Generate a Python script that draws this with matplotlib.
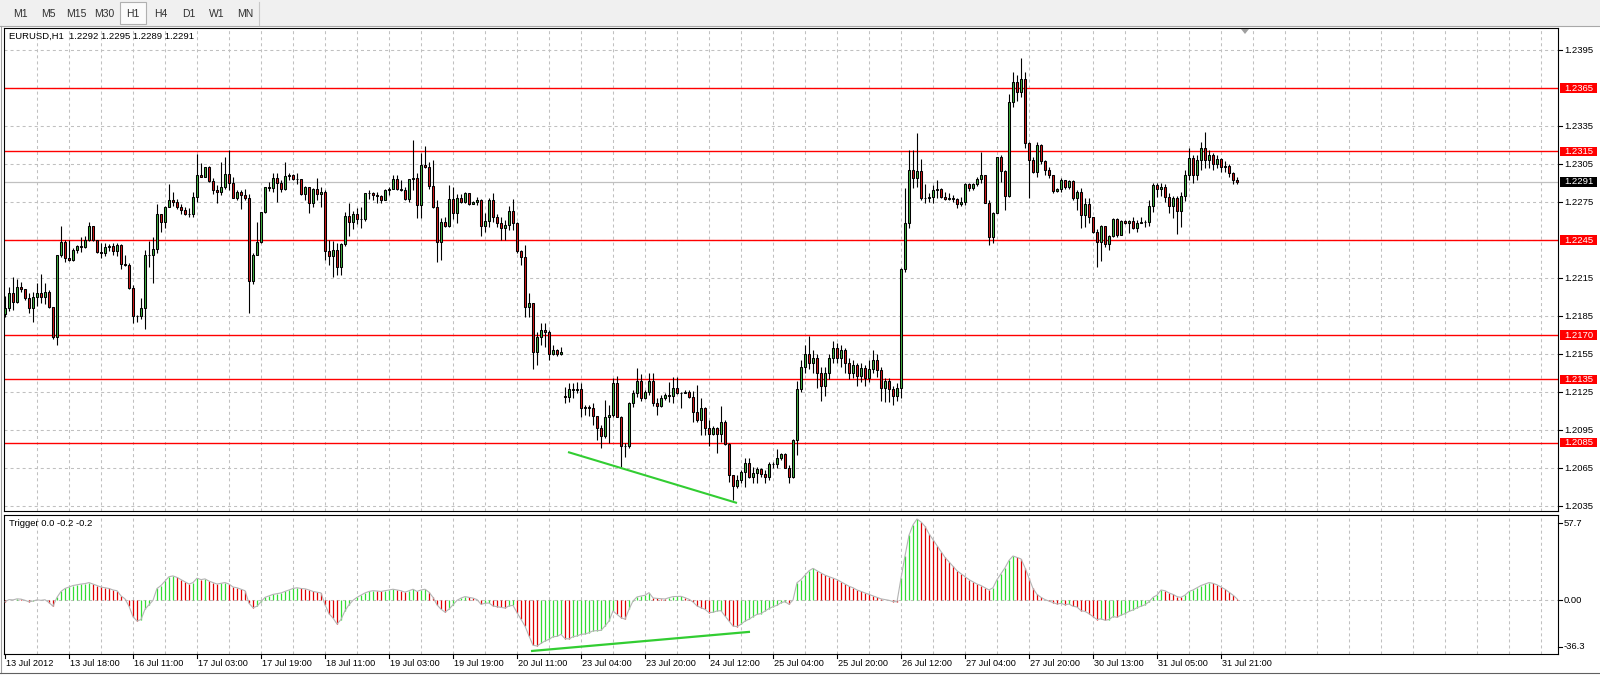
"""EURUSD H1 candle chart with Trigger sub-window, MT4 look."""

import matplotlib

matplotlib.use("Agg")
import matplotlib.pyplot as plt
import numpy as np
from matplotlib.patches import Polygon, Rectangle

plt.rcParams["font.family"] = ["Liberation Sans", "DejaVu Sans"]

# ---- data (prices in pips above 1.2000) ----
first_open = 186.6
gap_opens = {140: 121.5}  # Monday open after the weekend gap

closes = [
    191.6, 202.9, 196.3, 208.2, 206.3, 199.5, 191.6, 199.7, 203.4, 200.3,
    203.7, 191.8, 168.2, 232.9, 243.2, 230.5, 229.2, 237.1, 240.3, 239.7,
    245.0, 255.8, 245.0, 235.8, 235.0, 239.5, 240.5, 236.0, 241.0, 225.8,
    225.3, 206.8, 184.7, 185.3, 191.3, 232.9, 233.4, 237.9, 265.3, 258.9,
    271.1, 276.3, 274.7, 270.8, 268.9, 265.8, 265.3, 278.7, 296.1, 295.0,
    302.4, 291.8, 284.2, 282.6, 286.6, 297.1, 289.7, 278.4, 282.9, 280.5,
    278.2, 212.9, 232.9, 243.4, 267.1, 286.6, 286.0, 293.7, 289.7, 285.0,
    295.5, 296.3, 293.4, 292.9, 281.0, 286.6, 274.0, 285.0, 281.0, 282.9,
    236.6, 232.6, 237.1, 224.0, 241.6, 263.9, 259.5, 265.5, 261.8, 261.3,
    281.8, 282.4, 280.3, 279.5, 276.6, 284.2, 285.3, 292.9, 285.5, 284.5,
    277.4, 292.9, 293.7, 272.6, 304.2, 302.4, 287.9, 270.8, 243.2, 259.0,
    255.8, 277.4, 266.6, 277.9, 274.7, 281.8, 273.4, 274.7, 276.6, 256.3,
    260.3, 276.6, 262.9, 258.7, 254.7, 256.8, 267.9, 258.2, 236.6, 231.8,
    192.4, 195.0, 156.8, 168.2, 173.9, 172.4, 155.0, 157.9, 155.0, 156.8,
    121.0, 127.2, 126.5, 127.5, 112.2, 113.0, 112.7, 106.4, 96.4, 90.6,
    105.0, 106.9, 131.9, 105.6, 82.4, 82.0, 116.1, 124.5, 134.0, 120.1,
    125.3, 133.7, 116.1, 114.3, 120.1, 122.7, 122.0, 127.9, 124.5, 124.3,
    125.0, 120.8, 109.5, 102.9, 112.2, 96.4, 91.9, 96.4, 91.6, 101.6,
    83.7, 59.5, 51.1, 55.6, 61.6, 68.7, 58.2, 61.0, 64.3, 60.0,
    58.2, 68.0, 68.5, 73.2, 75.8, 65.3, 58.2, 87.1, 127.2, 145.0,
    155.0, 148.0, 152.0, 140.0, 130.0, 140.0, 152.0, 160.0, 152.0, 158.0,
    148.0, 140.0, 146.0, 138.0, 144.0, 136.0, 143.0, 150.0, 142.0, 128.0,
    134.0, 127.0, 122.0, 128.0, 221.8, 258.1, 300.2, 293.7, 299.4, 277.9,
    278.3, 278.7, 284.4, 285.0, 278.7, 277.5, 278.0, 277.0, 273.4, 274.7,
    289.0, 286.0, 289.2, 292.9, 296.3, 274.4, 247.1, 266.5, 310.2, 299.2,
    280.0, 354.2, 370.0, 362.0, 372.0, 321.8, 308.1, 298.9, 320.0, 307.0,
    300.5, 296.0, 283.9, 285.0, 292.3, 286.6, 291.8, 277.9, 283.1, 264.7,
    273.4, 263.4, 251.5, 243.7, 256.0, 241.6, 248.1, 261.5, 248.9, 260.2,
    258.7, 260.0, 254.2, 258.7, 259.4, 259.0, 271.8, 288.1, 285.0, 287.0,
    279.0, 272.0, 278.0, 268.0, 280.0, 296.0, 310.0, 296.0, 308.0, 318.0,
    308.0, 312.0, 305.0, 309.0, 303.0, 303.5, 298.0, 292.0, 291.0,
]

highs = [
    200.8, 208.2, 216.1, 213.9, 212.1, 205.5, 202.9, 203.7, 210.8, 218.2,
    210.8, 205.5, 191.6, 233.5, 256.0, 245.0, 245.0, 238.4, 241.0, 247.1,
    248.2, 259.5, 255.9, 245.0, 242.4, 242.4, 242.0, 242.4, 242.4, 241.6,
    232.9, 226.6, 209.2, 185.8, 199.5, 237.1, 244.5, 247.4, 273.4, 265.5,
    272.1, 289.2, 282.6, 277.1, 273.4, 270.8, 270.0, 282.6, 312.9, 306.1,
    302.9, 303.7, 293.7, 288.4, 306.6, 310.8, 315.8, 295.0, 284.5, 284.5,
    285.0, 281.0, 235.0, 259.0, 267.5, 287.0, 291.0, 297.6, 297.6, 292.4,
    306.3, 297.6, 297.1, 298.2, 292.9, 287.6, 286.6, 285.8, 293.7, 287.1,
    284.5, 245.0, 244.2, 242.4, 242.4, 267.4, 274.5, 267.9, 270.3, 271.3,
    282.4, 284.5, 283.2, 283.2, 280.5, 285.0, 287.1, 296.3, 296.3, 292.4,
    287.1, 293.5, 324.0, 297.6, 313.4, 319.2, 306.8, 308.2, 276.6, 262.1,
    262.9, 288.4, 286.6, 281.3, 281.3, 283.2, 282.0, 275.5, 279.2, 277.0,
    266.1, 277.9, 281.8, 265.5, 262.9, 260.8, 271.8, 277.4, 259.5, 237.1,
    241.1, 202.9, 195.0, 172.7, 179.7, 179.2, 173.9, 162.1, 158.7, 160.5,
    129.3, 132.4, 132.4, 133.0, 132.4, 114.8, 114.8, 116.1, 106.1, 99.0,
    118.7, 114.8, 135.8, 137.7, 106.0, 84.5, 117.4, 126.6, 143.7, 139.0,
    126.6, 140.3, 139.8, 120.1, 122.7, 124.0, 133.2, 137.2, 137.2, 125.3,
    126.6, 126.6, 126.1, 130.6, 120.1, 113.5, 102.9, 98.2, 97.2, 114.3,
    102.9, 84.5, 59.5, 59.5, 63.5, 73.2, 72.7, 66.1, 66.1, 64.8,
    63.5, 70.0, 70.0, 79.8, 77.2, 76.6, 67.4, 87.7, 133.7, 150.0,
    162.0, 169.0, 158.0, 155.0, 145.0, 145.0, 155.0, 165.0, 164.0, 162.0,
    160.0, 152.0, 150.0, 148.0, 148.0, 146.0, 150.0, 158.0, 155.0, 145.0,
    136.0, 136.0, 130.0, 132.0, 223.0, 286.0, 316.0, 316.0, 329.2, 308.7,
    289.2, 282.3, 288.4, 292.3, 286.3, 283.1, 282.3, 280.5, 277.9, 279.2,
    289.7, 290.0, 290.2, 294.4, 314.7, 296.3, 276.6, 267.3, 310.5, 312.1,
    300.2, 360.0, 378.0, 375.0, 389.0, 378.0, 322.6, 310.8, 322.6, 320.5,
    308.0, 302.9, 296.3, 285.8, 293.7, 292.3, 292.5, 292.3, 284.4, 285.8,
    277.9, 277.9, 263.4, 253.4, 256.8, 256.0, 248.9, 262.1, 262.1, 260.8,
    260.8, 260.8, 262.9, 260.8, 263.4, 260.8, 276.6, 289.7, 289.7, 290.0,
    289.0, 282.0, 280.0, 280.0, 283.0, 300.0, 318.0, 312.0, 312.0, 322.0,
    330.0, 316.0, 314.0, 312.0, 310.0, 307.0, 305.0, 299.0, 295.0,
]

lows = [
    184.5, 189.2, 189.7, 195.0, 204.2, 197.6, 187.6, 180.5, 192.9, 195.0,
    194.2, 191.3, 166.6, 162.1, 231.8, 227.9, 228.7, 228.5, 235.0, 235.3,
    238.9, 244.0, 244.2, 235.0, 230.5, 232.4, 236.6, 233.2, 232.6, 221.8,
    224.5, 206.0, 179.7, 180.5, 183.0, 174.5, 224.0, 210.8, 235.0, 251.6,
    254.2, 270.8, 272.1, 269.2, 265.5, 264.7, 262.9, 262.9, 275.3, 294.5,
    294.5, 291.1, 281.3, 274.5, 280.3, 285.0, 284.5, 277.9, 276.6, 269.7,
    276.6, 187.6, 210.3, 233.4, 242.4, 266.1, 283.4, 282.9, 275.3, 283.2,
    284.5, 292.4, 292.4, 289.2, 280.5, 276.6, 266.1, 270.8, 276.6, 271.3,
    229.2, 225.3, 215.5, 217.4, 217.4, 240.0, 248.2, 253.9, 257.6, 254.2,
    260.0, 277.1, 276.6, 274.0, 274.0, 276.6, 280.5, 285.0, 284.5, 283.7,
    276.6, 275.3, 284.5, 262.1, 262.1, 301.6, 285.0, 270.0, 227.9, 229.2,
    255.0, 255.5, 261.3, 258.2, 274.0, 274.0, 272.6, 273.4, 272.6, 248.2,
    251.6, 255.5, 259.2, 255.5, 245.0, 245.0, 252.9, 252.9, 234.5, 225.3,
    184.5, 184.5, 142.9, 146.3, 162.1, 160.8, 150.3, 154.2, 153.4, 154.2,
    116.1, 117.4, 120.1, 124.0, 105.0, 106.9, 106.1, 99.0, 87.1, 80.6,
    88.5, 84.5, 105.6, 105.1, 66.1, 74.0, 80.6, 113.5, 121.4, 118.2,
    119.4, 122.7, 114.3, 106.9, 113.5, 118.7, 117.4, 116.1, 123.5, 112.2,
    124.0, 120.1, 101.6, 101.6, 91.1, 91.1, 82.4, 91.1, 76.6, 85.8,
    83.2, 54.3, 39.8, 49.0, 52.9, 50.3, 56.9, 52.9, 52.9, 58.2,
    53.5, 55.6, 64.8, 64.8, 71.4, 64.8, 52.9, 57.0, 75.3, 125.0,
    140.0, 143.0, 140.0, 128.0, 118.0, 122.0, 135.0, 148.0, 148.0, 145.0,
    140.0, 135.0, 136.0, 130.0, 133.0, 130.0, 133.0, 140.0, 137.0, 118.0,
    117.0, 117.0, 115.0, 118.0, 120.0, 220.0, 254.2, 285.8, 286.6, 276.6,
    274.4, 275.2, 273.9, 277.9, 277.9, 276.6, 276.6, 275.2, 270.0, 271.8,
    273.0, 284.0, 284.4, 287.6, 290.2, 273.9, 241.0, 242.9, 266.0, 291.0,
    268.7, 279.2, 350.0, 355.0, 358.0, 318.0, 277.9, 297.6, 295.0, 305.0,
    296.0, 293.7, 281.8, 283.1, 283.1, 285.0, 285.5, 276.6, 268.7, 254.7,
    255.5, 258.1, 250.8, 223.9, 228.7, 239.7, 237.1, 247.6, 247.6, 248.9,
    257.6, 250.2, 253.4, 251.5, 258.1, 255.5, 256.0, 267.3, 279.2, 280.0,
    275.0, 266.0, 262.0, 250.0, 255.0, 276.0, 292.0, 290.0, 292.0, 300.0,
    302.0, 302.0, 300.0, 302.0, 299.0, 299.0, 295.0, 289.0, 289.0,
]

trigger = [
    -1.0, 0.5, 0.3, 1.0, 0.8, 0.0, -1.0, -0.5, 0.3, 0.0,
    0.4, -1.5, -4.0, 2.0, 6.0, 8.0, 9.0, 10.0, 10.5, 11.0,
    11.3, 12.0, 11.0, 10.0, 9.0, 8.5, 8.0, 7.0, 6.5, 3.0,
    1.0, -4.0, -11.0, -14.0, -13.0, -6.0, -3.0, 0.0, 8.0, 10.0,
    13.0, 16.0, 16.5, 15.5, 14.0, 12.5, 11.0, 12.0, 15.0, 14.0,
    14.5, 13.0, 12.0, 11.0, 11.5, 12.0, 11.0, 9.0, 8.5, 7.5,
    6.5, -2.0, -5.0, -4.0, -1.0, 2.0, 3.0, 4.0, 4.5, 5.0,
    6.0, 7.0, 8.0, 8.5, 8.0, 7.8, 7.0, 6.0, 5.5, 5.0,
    -3.0, -9.0, -12.0, -16.0, -13.0, -7.0, -3.0, 0.0, 2.0, 3.5,
    5.0, 6.0, 6.5, 6.3, 6.0, 6.5, 7.0, 7.5, 7.0, 6.5,
    5.5, 6.5, 7.5, 6.0, 7.0, 7.5, 5.5, 2.0, -3.0, -6.0,
    -8.0, -6.0, -3.0, 0.0, 1.5, 2.5, 2.0, 1.5, 0.5, -2.7,
    -2.0, -1.8, -3.8, -4.3, -4.8, -5.2, -3.8, -3.4, -8.3, -12.8,
    -17.4, -24.1, -30.4, -30.9, -29.1, -27.5, -26.4, -24.6, -24.4, -23.0,
    -25.9, -26.1, -24.6, -24.1, -23.0, -22.8, -21.9, -20.7, -20.5, -20.3,
    -17.4, -14.0, -7.2, -9.5, -11.7, -12.8, -6.1, -0.5, 2.3, 2.9,
    3.4, 5.2, 1.6, 1.3, 1.1, 0.9, 1.8, 2.5, 2.6, 2.7,
    1.8, 0.7, -1.1, -3.8, -5.0, -6.1, -8.3, -8.1, -7.2, -7.0,
    -10.6, -14.0, -17.4, -17.8, -16.2, -14.0, -12.8, -11.0, -9.5, -9.0,
    -7.2, -5.6, -4.3, -3.4, -1.6, -0.9, -2.7, 0.2, 11.9, 14.0,
    17.0, 20.0, 21.6, 20.0, 18.5, 17.0, 16.0, 15.0, 14.0, 12.5,
    11.0, 9.5, 8.5, 7.0, 6.0, 5.0, 4.0, 3.0, 2.0, 1.0,
    0.5, 0.0, -0.8, -1.0, 15.0, 30.0, 44.0, 51.0, 55.0, 53.0,
    50.0, 45.0, 41.0, 37.0, 33.0, 29.0, 26.0, 23.0, 20.0, 18.0,
    16.0, 14.0, 12.5, 11.0, 10.0, 8.5, 7.0, 8.5, 14.0, 18.0,
    22.0, 27.0, 30.0, 29.0, 28.0, 22.0, 15.0, 8.0, 4.0, 2.0,
    0.5, -0.5, -1.5, -2.5, -2.0, -3.0, -2.5, -4.0, -4.5, -7.0,
    -7.5, -9.0, -11.0, -13.0, -12.5, -13.5, -13.0, -11.0, -11.5, -10.0,
    -9.0, -7.5, -6.5, -5.0, -4.0, -3.0, -1.0, 2.0, 3.5, 7.0,
    6.5, 5.0, 4.0, 2.5, 2.0, 3.5, 6.0, 7.0, 8.5, 10.0,
    11.0, 12.0, 11.5, 10.5, 9.0, 7.5, 5.5, 3.5, 1.0,
]

levels = [1.2365, 1.2315, 1.2245, 1.2170, 1.2135, 1.2085]
bid = 1.2291
price_ticks = [1.2395, 1.2335, 1.2305, 1.2275, 1.2215, 1.2185,
               1.2155, 1.2125, 1.2095, 1.2065, 1.2035]
time_labels = ["13 Jul 2012", "13 Jul 18:00", "16 Jul 11:00", "17 Jul 03:00",
               "17 Jul 19:00", "18 Jul 11:00", "19 Jul 03:00", "19 Jul 19:00",
               "20 Jul 11:00", "23 Jul 04:00", "23 Jul 20:00", "24 Jul 12:00",
               "25 Jul 04:00", "25 Jul 20:00", "26 Jul 12:00", "27 Jul 04:00",
               "27 Jul 20:00", "30 Jul 13:00", "31 Jul 05:00", "31 Jul 21:00"]
periods = ["M1", "M5", "M15", "M30", "H1", "H4", "D1", "W1", "MN"]
price_trend = ([140.75, 183.0], [1.20776, 1.20374])
trigger_trend = ([131.5, 186.25], [-34.3, -21.3])
trigger_scale = (-36.3, 57.7)
title = "EURUSD,H1  1.2292 1.2295 1.2289 1.2291"
sub_title = "Trigger 0.0 -0.2 -0.2"

# ---- figure geometry (pixels) ----
W, H = 1600, 675
FS = 6.8
AXFS = 6.8
GRID = "#c0c0c0"
DASH = (0, (2.9, 2.9))
UP, DOWN = "#3fae3f", "#d01818"
LIME = "#32cd32"


def fx(px):
    return px / W


def fy(py):
    return 1 - py / H


fig = plt.figure(figsize=(W / 100, H / 100), dpi=100, facecolor="white")

left, right = 4, 1558
ax = fig.add_axes([fx(left), fy(511), (right - left) / W, (511 - 28) / H])
axi = fig.add_axes([fx(left), fy(654), (right - left) / W, (654 - 515) / H])

n = len(closes)
x = np.arange(n)
c = 1.2 + np.array(closes) / 1e4
h = 1.2 + np.array(highs) / 1e4
lo = 1.2 + np.array(lows) / 1e4
o_pips = [first_open] + closes[:-1]
for k, v in gap_opens.items():
    o_pips[k] = v
o = 1.2 + np.array(o_pips) / 1e4
h = np.maximum(h, np.maximum(o, c))
lo = np.minimum(lo, np.minimum(o, c))

xmax = (right - 5) / 4.0
for a in (ax, axi):
    a.set_xlim(-0.25, xmax)
    a.set_xticks([])
    a.set_yticks([])
    for s in a.spines.values():
        s.set_color("black")
        s.set_linewidth(0.8)
    for b in range(8, int(xmax) + 1, 8):
        a.axvline(b, color=GRID, lw=0.75, ls=DASH, zorder=0)

ax.set_ylim(1.203106, 1.241237)
axi.set_ylim(*trigger_scale)

# price panel grid and levels
for p in np.arange(1.2035, 1.2396, 0.003):
    ax.axhline(p, color=GRID, lw=0.75, ls=DASH, zorder=0)
ax.axhline(bid, color="#c0c0c0", lw=0.9, zorder=1)
for lv in levels:
    ax.axhline(lv, color="#ff0000", lw=1.0, zorder=2)

# candles
ax.vlines(x, lo, h, color="black", lw=0.8, zorder=3)
for i in range(n):
    bottom = min(o[i], c[i])
    ax.add_patch(Rectangle((x[i] - 0.28, bottom), 0.56, abs(c[i] - o[i]),
                           facecolor=UP if c[i] > o[i] else DOWN,
                           edgecolor="black", lw=0.75, zorder=4))

ax.plot(*price_trend, color=LIME, lw=1.5, zorder=5, solid_capstyle="butt")

# trigger panel
tv = np.array(trigger)
cols = ["#e00000" if i == 0 or tv[i] <= tv[i - 1] else "#33dd33" for i in range(n)]
axi.axhline(0, color=GRID, lw=0.75, ls=DASH, zorder=0)
axi.vlines(x, 0, tv, colors=cols, lw=0.9, zorder=2)
axi.plot(x, tv, color="#b4b4b4", lw=0.8, zorder=3)
axi.plot(*trigger_trend, color=LIME, lw=1.6, zorder=4, solid_capstyle="butt")

# right price scale
yt = ax.get_yaxis_transform()
ppx = (ax.get_ylim()[1] - ax.get_ylim()[0]) / (511 - 28)
tx = (1564 - left) / (right - left)
for p in price_ticks:
    ax.plot([1.0, 1.0026], [p, p], color="black", lw=0.8, transform=yt, clip_on=False)
    ax.text(tx, p, f"{p:.4f}", transform=yt, fontsize=AXFS, va="center", ha="left")
bx0 = (1560 - left) / (right - left)
bw = 37 / (right - left)
for lv, face in [(v, "#ff0000") for v in levels] + [(bid, "black")]:
    ax.add_patch(Rectangle((bx0, lv - 4.8 * ppx), bw, 9.6 * ppx, transform=yt,
                           facecolor=face, edgecolor="none", clip_on=False, zorder=6))
    ax.text(tx, lv, f"{lv:.4f}", transform=yt, fontsize=AXFS, va="center",
            ha="left", color="white", zorder=7)

# trigger scale labels
yti = axi.get_yaxis_transform()
ipx = (trigger_scale[1] - trigger_scale[0]) / (654 - 515)
for val, txt in [(trigger_scale[1] - 8 * ipx, f"{trigger_scale[1]:.1f}"),
                 (0.0, "0.00"),
                 (trigger_scale[0] + 7.3 * ipx, f"{trigger_scale[0]:.1f}")]:
    axi.plot([1.0, 1.0026], [val, val], color="black", lw=0.8, transform=yti, clip_on=False)
    axi.text(tx, val, txt, transform=yti, fontsize=AXFS, va="center", ha="left")

# time axis
xt = axi.get_xaxis_transform()
for i, lab in enumerate(time_labels):
    b = i * 16
    axi.plot([b, b], [0, -4 / 139], color="black", lw=0.8, transform=xt, clip_on=False)
    axi.text(b + 0.2, -9.5 / 139, lab, transform=xt, fontsize=6.6, va="center", ha="left")

# panel captions
ax.text(5 / (right - left), 1 - 8 / 483, title, transform=ax.transAxes,
        fontsize=FS, va="center", ha="left")
axi.text(5 / (right - left), 1 - 8 / 139, sub_title, transform=axi.transAxes,
         fontsize=FS, va="center", ha="left")

# chart shift marker
fig.add_artist(Polygon([(fx(1241), fy(29)), (fx(1249), fy(29)), (fx(1245), fy(34))],
                       closed=True, transform=fig.transFigure, facecolor="#a0a0a0",
                       edgecolor="none"))

# toolbar strip
fig.add_artist(Rectangle((0, fy(26)), 1, 26 / H, transform=fig.transFigure,
                         facecolor="#f0f0f0", edgecolor="none"))
fig.add_artist(plt.Line2D([0, 1], [fy(26), fy(26)], transform=fig.transFigure,
                          color="#a8a8a8", lw=0.8))
fig.add_artist(Rectangle((fx(120), fy(24)), 26 / W, 22 / H, transform=fig.transFigure,
                         facecolor="#fbfbfb", edgecolor="#b0b0b0", lw=0.8))
fig.add_artist(plt.Line2D([fx(259), fx(259)], [fy(2), fy(25)], transform=fig.transFigure,
                          color="#c8c8c8", lw=0.8))
for i, lab in enumerate(periods):
    fig.text(fx(20 + i * 28.1), fy(14), lab, fontsize=7.5, color="#303030",
             ha="center", va="center")

# window frame
fig.add_artist(plt.Line2D([fx(1), fx(1)], [fy(26), fy(673)], transform=fig.transFigure,
                          color="#a0a0a0", lw=0.8))
fig.add_artist(plt.Line2D([0, 1], [fy(673), fy(673)], transform=fig.transFigure,
                          color="#606060", lw=0.8))

fig.savefig("out.png", dpi=100, facecolor="white")
